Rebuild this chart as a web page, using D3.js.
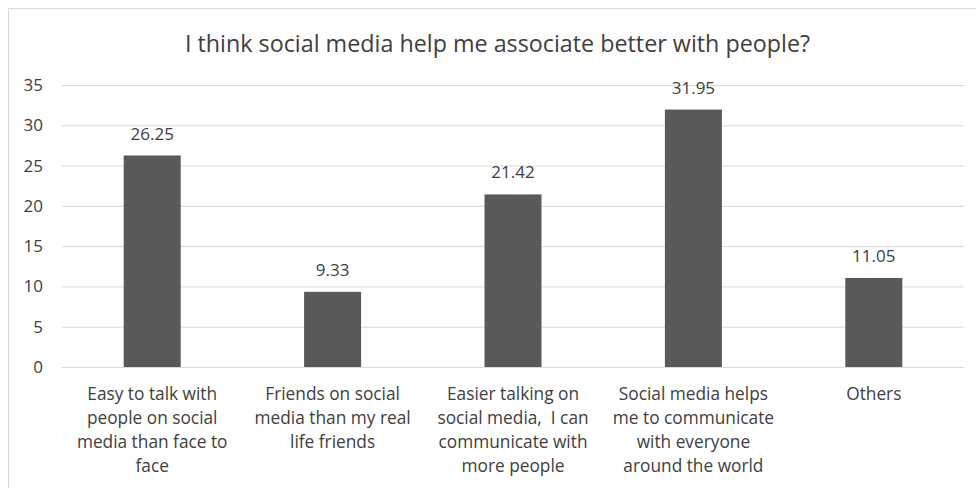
<!DOCTYPE html>
<html><head><meta charset="utf-8">
<script src="https://cdn.jsdelivr.net/npm/d3@7"></script>
<style>body{margin:0;background:#fff}svg{display:block}text{font-family:"Open Sans",sans-serif}</style>
</head><body><svg id="c" width="976" height="488"></svg>
<script>
const title = "I think social media help me associate better with people?";
const categories = [
  ["Easy to talk with","people on social","media than face to","face"],
  ["Friends on social","media than my real","life friends"],
  ["Easier talking on","social media,  I can","communicate with","more people"],
  ["Social media helps","me to communicate","with everyone","around the world"],
  ["Others"]
];
const values = [26.25, 9.33, 21.42, 31.95, 11.05];
const valueLabels = ["26.25","9.33","21.42","31.95","11.05"];
const yTicks = [0,5,10,15,20,25,30,35];

const svg = d3.select("#c");
const W = 976, H = 488;
const m = {left:62, right:12, top:85, bottom:121};
const x = d3.scaleBand().domain(d3.range(categories.length)).range([m.left, W - m.right]).padding(0);
const y = d3.scaleLinear().domain([0,35]).range([H - m.bottom, m.top]);
const txt = "#404040";

// frame
svg.append("path").attr("d", `M8.5,${H} V8.5 H${W}`).attr("fill","none").attr("stroke","#d9d9d9").attr("stroke-width",1);

// grid
const yAxis = d3.axisLeft(y).tickValues(yTicks).tickSize(-(W - m.left - m.right)).tickPadding(19);
const gy = svg.append("g").attr("transform",`translate(${m.left},0)`).call(yAxis);
gy.select(".domain").remove();
gy.selectAll(".tick line").attr("stroke","#d9d9d9").attr("stroke-width",1);
gy.selectAll(".tick text").attr("fill",txt).style("font-size","17px").style("font-family","Open Sans");

// bars
const bw = x.step()*0.316;
svg.append("g").selectAll("rect").data(values).join("rect")
  .attr("x",(d,i)=>x(i)+x.bandwidth()/2 - bw/2)
  .attr("y",d=>y(d))
  .attr("width",bw)
  .attr("height",d=>y(0)-y(d))
  .attr("fill","#595959");

// value labels
svg.append("g").selectAll("text").data(values).join("text")
  .attr("x",(d,i)=>x(i)+x.bandwidth()/2)
  .attr("y",d=>y(d)-16)
  .attr("text-anchor","middle")
  .attr("fill",txt)
  .style("font-size","17px")
  .text((d,i)=>valueLabels[i]);

// category labels
const xAxis = d3.axisBottom(x).tickSize(0).tickFormat("");
const gx = svg.append("g").attr("transform",`translate(0,${y(0)})`).call(xAxis);
gx.select(".domain").attr("stroke","#d9d9d9");
gx.selectAll(".tick").each(function(i){
  const t = d3.select(this).append("text").attr("text-anchor","middle").attr("fill",txt).style("font-size","17.3px");
  categories[i].forEach((line,k)=>{
    t.append("tspan").attr("x",0).attr("y",33 + k*24).attr("xml:space","preserve").text(line);
  });
});

// title
svg.append("text").attr("x",(183+812)/2).attr("y",52).attr("text-anchor","middle")
  .attr("fill",txt).style("font-size","23.3px").text(title);
</script></body></html>
